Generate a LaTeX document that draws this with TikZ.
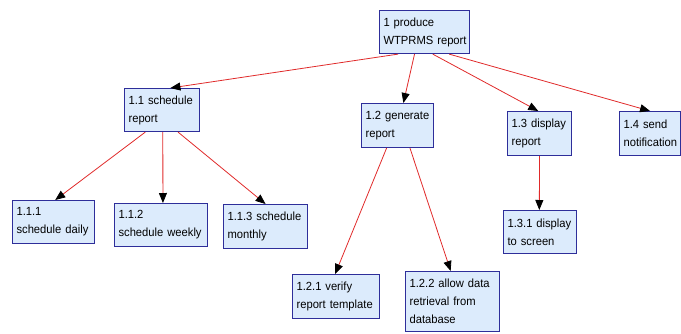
\documentclass[tikz,border=0pt]{standalone}
\usepackage{fontspec}
\setmainfont[FakeStretch=0.95]{Liberation Sans}
\usetikzlibrary{arrows.meta,calc}
\definecolor{boxfill}{HTML}{DCEBFC}
\definecolor{boxline}{HTML}{2E2E9A}
\definecolor{linkred}{HTML}{E02A2A}
\begin{document}
\begin{tikzpicture}[x=1pt,y=-1pt,
  task/.style={draw=boxline, fill=boxfill, line width=1.1pt, anchor=north west,
    align=left, inner xsep=4pt, inner ysep=0pt,
    font=\fontsize{11.8}{18}\selectfont},
  link/.style={linkred, line width=0.8pt,
    -{Triangle[length=10pt,width=8pt,color=black]}}]
\useasboundingbox (0,0) rectangle (681,333);

% work breakdown boxes (top-left corner, text width, height)
\node[task, text width=82pt, minimum height=43pt] (root) at (379,10) {\mbox{1 produce}\\\mbox{WTPRMS report}};
\node[task, text width=67pt, minimum height=43pt] (n11) at (124,88) {\mbox{1.1 schedule}\\report};
\node[task, text width=64pt, minimum height=44pt] (n12) at (361,103) {\mbox{1.2 generate}\\report};
\node[task, text width=56pt, minimum height=44pt] (n13) at (507,111) {\mbox{1.3 display}\\report};
\node[task, text width=53pt, minimum height=44pt] (n14) at (619,111) {\mbox{1.4 send}\\\mbox{notification}};
\node[task, text width=74pt, minimum height=43pt] (n111) at (12,200) {1.1.1\\\mbox{schedule daily}};
\node[task, text width=85pt, minimum height=43pt] (n112) at (114,203) {1.1.2\\\mbox{schedule weekly}};
\node[task, text width=76pt, minimum height=44pt] (n113) at (223,204) {\mbox{1.1.3 schedule}\\monthly};
\node[task, text width=79pt, minimum height=44pt] (n121) at (292,274) {\mbox{1.2.1 verify}\\\mbox{report template}};
\node[task, text width=86pt, minimum height=60pt] (n122) at (405,271) {\mbox{1.2.2 allow data}\\\mbox{retrieval from}\\database};
\node[task, text width=65pt, minimum height=43pt] (n131) at (503,210) {\mbox{1.3.1 display}\\\mbox{to screen}};

% decomposition links
\draw[link] ($(root.south west)!0.21!(root.south east)$) -- ($(n11.north west)!0.61!(n11.north east)$);
\draw[link] ($(root.south west)!0.39!(root.south east)$) -- ($(n12.north west)!0.58!(n12.north east)$);
\draw[link] ($(root.south west)!0.59!(root.south east)$) -- ($(n13.north west)!0.48!(n13.north east)$);
\draw[link] ($(root.south west)!0.77!(root.south east)$) -- ($(n14.north west)!0.5!(n14.north east)$);

\draw[link] ($(n11.south west)!0.28!(n11.south east)$) -- ($(n111.north west)!0.52!(n111.north east)$);
\draw[link] ($(n11.south west)!0.51!(n11.south east)$) -- ($(n112.north west)!0.52!(n112.north east)$);
\draw[link] ($(n11.south west)!0.71!(n11.south east)$) -- ($(n113.north west)!0.5!(n113.north east)$);

\draw[link] ($(n12.south west)!0.35!(n12.south east)$) -- ($(n121.north west)!0.49!(n121.north east)$);
\draw[link] ($(n12.south west)!0.67!(n12.south east)$) -- ($(n122.north west)!0.48!(n122.north east)$);

\draw[link] ($(n13.south west)!0.5!(n13.south east)$) -- ($(n131.north west)!0.49!(n131.north east)$);
\end{tikzpicture}
\end{document}
